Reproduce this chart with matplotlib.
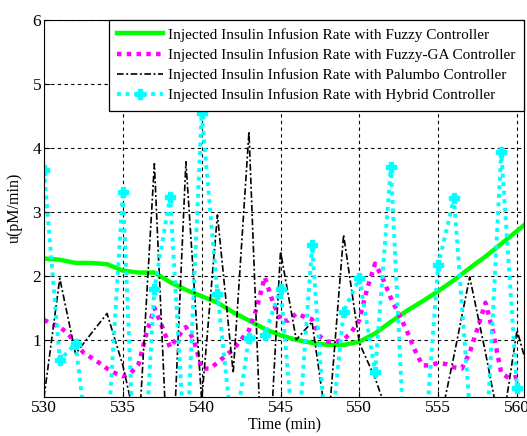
import numpy as np
import matplotlib.pyplot as plt

# Zeitachse (min) und Stellgroessen der vier Regler
t_int = list(range(530, 562))

u_fuzzy = [2.27, 2.25, 2.2, 2.2, 2.18, 2.08, 2.05, 2.05, 1.9, 1.78, 1.68,
           1.58, 1.43, 1.3, 1.17, 1.07, 1.0, 0.95, 0.92, 0.92, 0.97, 1.1,
           1.28, 1.45, 1.6, 1.76, 1.93, 2.12, 2.3, 2.5, 2.7, 2.9]

t_half = [530 + 0.5 * i for i in range(61)]
u_fuzzy_ga = [1.31, 1.25, 1.2, 1.1, 0.95, 0.8, 0.72, 0.64, 0.55, 0.48,
              0.43, 0.48, 0.62, 1.1, 1.5, 1.2, 0.88, 1.05, 1.2, 1.0,
              0.55, 0.55, 0.64, 0.75, 0.85, 1.0, 1.15, 1.5, 1.98, 1.6,
              1.3, 1.3, 1.41, 1.36, 1.32, 1.05, 0.97, 0.97, 1.0, 1.12,
              1.31, 1.8, 2.19, 1.95, 1.65, 1.4, 1.15, 0.85, 0.6, 0.6,
              0.64, 0.62, 0.57, 0.55, 0.8, 1.18, 1.58, 1.1, 0.48, 0.4,
              0.42]

u_palumbo = [0.1, 1.96, 0.78, 1.1, 1.41, 0.6, -0.5, 3.75, -1.8, 3.78, 0.05,
             2.95, 0.48, 4.25, -2.2, 2.38, 1.0, 1.28, -0.45, 2.64, 0.95, 0.4,
             -0.3, -0.5, -0.6, -0.43, 0.75, 1.98, 0.8, -0.47, 1.15, 0.27]

t_hyb = list(range(530, 561))
u_hybrid = [3.65, 0.68, 0.94, -1.1, -0.69, 3.31, -2.5, 1.8, 3.23, -1.0, 4.54,
            1.72, -0.6, 1.02, 1.08, 1.8, -1.0, 2.48, -1.0, 1.44, 1.96, 0.5,
            3.7, -1.4, -1.1, 2.17, 3.21, -0.1, -0.85, 3.94, 0.24]

plt.rcParams['font.family'] = ['Liberation Serif', 'DejaVu Serif']

fig = plt.figure(figsize=(5.27, 4.36), dpi=100)
ax = fig.add_axes([0.0835, 0.09, 0.911, 0.865])

ax.plot(t_int, u_fuzzy, color='#00ff00', lw=3.2,
        label='Injected Insulin Infusion Rate with Fuzzy Controller')
ax.plot(t_half, u_fuzzy_ga, color='#ff00ff', lw=3.2, ls=(0, (1, 1.2)),
        label='Injected Insulin Infusion Rate with Fuzzy-GA Controller')
ax.plot(t_int, u_palumbo, color='black', lw=1.2, ls=(0, (4, 1.5, 1.2, 1.5)),
        label='Injected Insulin Infusion Rate with Palumbo Controller')
ax.plot(t_hyb, u_hybrid, color='#00ffff', lw=2.8, ls=(0, (1, 1.2)),
        marker='P', ms=7, mec='#00ffff',
        label='Injected Insulin Infusion Rate with Hybrid Controller')

ax.set_xlim(530, 560.45)
ax.set_ylim(0.11, 6)
ax.set_xticks([530, 535, 540, 545, 550, 555, 560])
ax.set_yticks([1, 2, 3, 4, 5, 6])
ax.tick_params(direction='in', labelsize=12.5, length=4, pad=2)
ax.grid(True, color='black', ls=(0, (3, 3)), lw=0.8)

ax.set_xlabel('Time (min)', fontsize=11.5, labelpad=1)
ax.set_ylabel('u(pM/min)', fontsize=11.5, labelpad=7)

leg = ax.legend(loc='upper right', fontsize=11, borderaxespad=0,
                fancybox=False, framealpha=1, edgecolor='black',
                handlelength=3.0, handletextpad=0.35, labelspacing=0.42,
                borderpad=0.55)
leg.get_frame().set_linewidth(0.9)

fig.savefig('out.png', dpi=100)
